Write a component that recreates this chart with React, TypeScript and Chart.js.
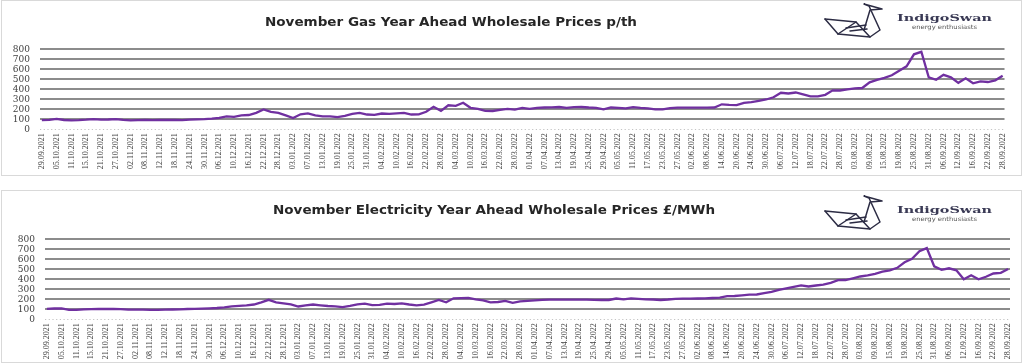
import React, { useEffect, useLayoutEffect, useRef } from 'react';
import { Chart, registerables } from 'chart.js';

Chart.register(...registerables);

// Category tick labels (every 4th weekday shown on the axis)
const tickLabels = [
  '29.09.2021', '05.10.2021', '11.10.2021', '15.10.2021', '21.10.2021', '27.10.2021',
  '02.11.2021', '08.11.2021', '12.11.2021', '18.11.2021', '24.11.2021', '30.11.2021',
  '06.12.2021', '10.12.2021', '16.12.2021', '22.12.2021', '28.12.2021', '03.01.2022',
  '07.01.2022', '13.01.2022', '19.01.2022', '25.01.2022', '31.01.2022', '04.02.2022',
  '10.02.2022', '16.02.2022', '22.02.2022', '28.02.2022', '04.03.2022', '10.03.2022',
  '16.03.2022', '22.03.2022', '28.03.2022', '01.04.2022', '07.04.2022', '13.04.2022',
  '19.04.2022', '25.04.2022', '29.04.2022', '05.05.2022', '11.05.2022', '17.05.2022',
  '23.05.2022', '27.05.2022', '02.06.2022', '08.06.2022', '14.06.2022', '20.06.2022',
  '24.06.2022', '30.06.2022', '06.07.2022', '12.07.2022', '18.07.2022', '22.07.2022',
  '28.07.2022', '03.08.2022', '09.08.2022', '15.08.2022', '19.08.2022', '25.08.2022',
  '31.08.2022', '06.09.2022', '12.09.2022', '16.09.2022', '22.09.2022', '28.09.2022',
];

// Gas year-ahead price, p/th, sampled every 2nd weekday
const gasPrices = [
  92, 95, 105, 93, 90, 92, 96, 102, 97, 98,
  102, 95, 90, 92, 93, 92, 93, 93, 94, 92,
  97, 100, 102, 106, 115, 130, 125, 140, 143, 165,
  198, 175, 165, 140, 112, 150, 160, 140, 130, 130,
  122, 135, 155, 165, 148, 145, 158, 155, 160, 165,
  148, 150, 175, 225, 185, 240, 235, 265, 215, 205,
  185, 183, 195, 205, 197, 215, 205, 215, 218, 220,
  223, 215, 222, 223, 218, 215, 200, 218, 215, 210,
  222, 215, 210, 200, 200, 212, 217, 217, 217, 217,
  217, 218, 250, 245, 242, 265, 272, 285, 298, 320,
  365, 358, 368, 350, 330, 330, 345, 390, 388, 400,
  410, 413, 470, 495, 515, 540, 585, 630, 750, 775,
  520, 495, 545, 520, 465, 510, 460, 480, 473, 490,
  535,
];

// Electricity year-ahead price, £/MWh, sampled every 2nd weekday
const elecPrices = [
  105, 108, 110, 95, 95, 100, 102, 103, 103, 103,
  102, 97, 96, 96, 94, 94, 96, 98, 100, 103,
  105, 107, 110, 113, 120, 130, 135, 140, 148, 170,
  195, 170, 160, 150, 128, 140, 148, 140, 133, 130,
  122, 135, 150, 157, 142, 145, 157, 153, 160, 148,
  140, 147, 170, 193, 170, 210, 212, 215, 200, 190,
  170, 173, 185, 165, 180, 185, 190, 195, 197, 197,
  197, 197, 197, 197, 195, 193, 193, 208, 200, 210,
  205, 200, 198, 193, 198, 205, 207, 207, 208, 210,
  213, 217, 232, 233, 240, 247, 248, 262, 275, 295,
  310, 325, 340, 328, 338, 347, 365, 392, 393, 410,
  428, 440, 455, 477, 490, 515, 570, 605, 680, 712,
  530, 495, 510, 490, 400, 440, 400, 425, 458, 465,
  503,
];

const yTicks = [0, 100, 200, 300, 400, 500, 600, 700, 800];

const SAMPLE_STEP = 2; // weekdays between samples
const LABEL_STEP = 4; // weekdays between axis labels
const LAST_INDEX = (tickLabels.length - 1) * LABEL_STEP;

const dottedAxis = {
  id: 'dottedAxis',
  beforeDatasetsDraw(chart: any) {
    const { ctx, chartArea } = chart;
    ctx.save();
    ctx.strokeStyle = '#c4c4c4';
    ctx.lineWidth = 1.2;
    ctx.setLineDash([1.2, 2.5]);
    ctx.beginPath();
    ctx.moveTo(chartArea.left, Math.round(chartArea.bottom) + 0.5);
    ctx.lineTo(chartArea.right, Math.round(chartArea.bottom) + 0.5);
    ctx.stroke();
    ctx.restore();
  },
};

type ChartProps = {
  values: number[];
  canvasTop: number;
  canvasHeight: number;
  left: number;
  right: number;
  plotTop: number;
  plotBottom: number;
};

function PriceChart({ values, canvasTop, canvasHeight, left, right, plotTop, plotBottom }: ChartProps) {
  const ref = useRef<HTMLCanvasElement>(null);
  useEffect(() => {
    const xAxisH = 40;
    const chart = new Chart(ref.current as HTMLCanvasElement, {
      type: 'line',
      data: {
        datasets: [
          {
            data: values.map((v, i) => ({ x: i * SAMPLE_STEP, y: v })),
            borderColor: '#7030A0',
            borderWidth: 2.3,
            pointRadius: 0,
            tension: 0,
            fill: false,
          },
        ],
      },
      options: {
        animation: false,
        responsive: false,
        devicePixelRatio: 1,
        layout: {
          padding: {
            top: plotTop - canvasTop,
            left: 0,
            right: 1024 - right,
            bottom: canvasTop + canvasHeight - plotBottom - xAxisH,
          },
        },
        plugins: {
          legend: { display: false },
          tooltip: { enabled: false },
          title: { display: false },
        },
        scales: {
          x: {
            type: 'linear',
            min: -0.5,
            max: LAST_INDEX + 0.5,
            afterBuildTicks: (s: any) => {
              s.ticks = tickLabels.map((_, k) => ({ value: k * LABEL_STEP }));
            },
            afterFit: (s: any) => {
              s.height = xAxisH;
            },
            grid: { display: false, drawTicks: false },
            border: { display: false },
            ticks: {
              autoSkip: false,
              minRotation: 90,
              maxRotation: 90,
              padding: 4,
              color: '#404040',
              font: { family: 'Liberation Serif', size: 8 },
              callback: (_v: any, i: number) => tickLabels[i],
            },
          },
          y: {
            min: 0,
            max: 800,
            afterBuildTicks: (s: any) => {
              s.ticks = yTicks.map((v) => ({ value: v }));
            },
            afterFit: (s: any) => {
              s.width = left;
            },
            ticks: {
              autoSkip: false,
              padding: 10,
              color: '#404040',
              font: { family: 'DejaVu Serif', size: 9 },
              callback: (v: any) => String(v),
            },
            grid: {
              color: (c: any) => (c.tick && c.tick.value === 0 ? 'rgba(0,0,0,0)' : '#8c8c8c'),
              lineWidth: 2,
              drawTicks: false,
            },
            border: { display: false },
          },
        },
      } as any,
      plugins: [dottedAxis],
    });
    return () => chart.destroy();
  }, []);
  return (
    <canvas
      ref={ref}
      width={1024}
      height={canvasHeight}
      style={{ position: 'absolute', left: 0, top: canvasTop, width: 1024, height: canvasHeight }}
    />
  );
}

type FitProps = {
  text: string;
  left: number;
  top: number;
  width: number;
  family: string;
  size: number;
  weight?: string;
  color: string;
};

function FitText({ text, left, top, width, family, size, weight, color }: FitProps) {
  const ref = useRef<HTMLSpanElement>(null);
  useLayoutEffect(() => {
    const fit = () => {
      const el = ref.current;
      if (!el) return;
      el.style.transform = 'none';
      const w = el.getBoundingClientRect().width;
      if (w > 0) el.style.transform = `scaleX(${width / w})`;
    };
    fit();
    if ((document as any).fonts && (document as any).fonts.ready) {
      (document as any).fonts.ready.then(fit);
    }
  }, []);
  return (
    <span
      ref={ref}
      style={{
        position: 'absolute',
        left,
        top,
        whiteSpace: 'nowrap',
        fontFamily: family,
        fontSize: size,
        fontWeight: weight || 'normal',
        color,
        lineHeight: 1,
        transformOrigin: 'left top',
      }}
    >
      {text}
    </span>
  );
}

function Swan({ left, top }: { left: number; top: number }) {
  return (
    <svg
      width={70}
      height={42}
      viewBox="0 0 70 42"
      style={{ position: 'absolute', left, top }}
    >
      <g fill="none" stroke="#2c2c44" strokeWidth={1.5} strokeLinejoin="round" strokeLinecap="round">
        <path d="M5,19 L18,34 L50,37 L60,30 L49,6 L44,4 L62,9 L50,10 L44,30" />
        <path d="M5,19 L36,22 L50,37" />
        <path d="M18,34 L36,22" />
        <path d="M26,28 L46,25" />
        <path d="M30,31 L47,29" />
      </g>
    </svg>
  );
}

function Logo({ dy }: { dy: number }) {
  return (
    <>
      <Swan left={820} top={dy} />
      <FitText text="IndigoSwan" left={897} top={12.5 + dy} width={95} family="DejaVu Serif" size={10} weight="bold" color="#3a3a55" />
      <FitText text="energy enthusiasts" left={912} top={24 + dy} width={65} family="DejaVu Sans" size={6} color="#555555" />
    </>
  );
}

export default function App() {
  return (
    <div style={{ position: 'relative', width: 1024, height: 364, background: '#ffffff', overflow: 'hidden' }}>
      <style>{`html,body{margin:0;padding:0;background:#ffffff;}`}</style>
      <div style={{ position: 'absolute', left: 1, top: 0, width: 1021, height: 176, border: '1px solid #d9d9d9', boxSizing: 'border-box' }} />
      <div style={{ position: 'absolute', left: 1, top: 190, width: 1021, height: 173, border: '1px solid #d9d9d9', boxSizing: 'border-box' }} />
      <PriceChart values={gasPrices} canvasTop={0} canvasHeight={180} left={40} right={1004.5} plotTop={49.3} plotBottom={129.3} />
      <PriceChart values={elecPrices} canvasTop={180} canvasHeight={184} left={45} right={1010} plotTop={239.3} plotBottom={319.3} />
      <FitText text="November Gas Year Ahead Wholesale Prices p/th" left={265} top={16.3} width={372} family="DejaVu Sans" size={12} weight="bold" color="#262626" />
      <FitText text="November Electricity Year Ahead Wholesale Prices £/MWh" left={273} top={203.5} width={442} family="DejaVu Sans" size={12} weight="bold" color="#262626" />
      <Logo dy={0} />
      <Logo dy={192} />
    </div>
  );
}
